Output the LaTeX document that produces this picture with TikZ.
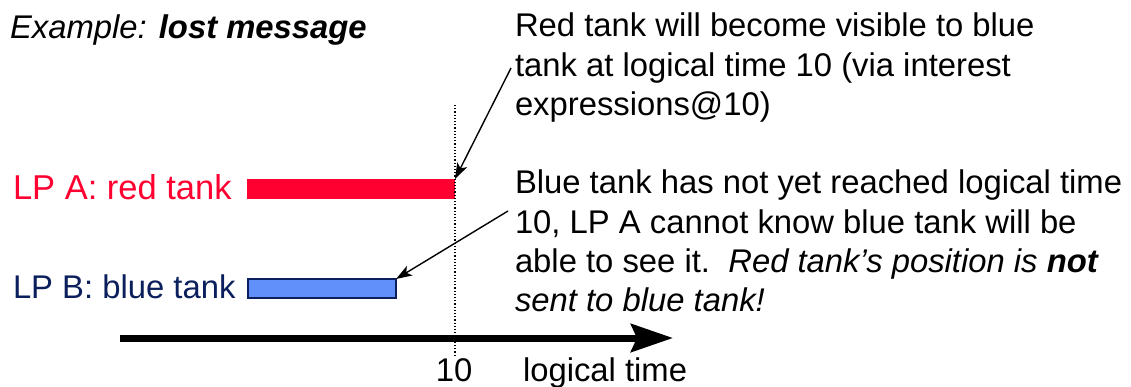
\documentclass[tikz,border=0pt]{standalone}
\usepackage{fontspec}
\setmainfont{Liberation Sans}
\usetikzlibrary{arrows.meta}
\definecolor{tankred}{HTML}{FF0030}
\definecolor{tanknavy}{HTML}{0B1F5C}
\definecolor{tankblue}{HTML}{6190FA}
\begin{document}
\begin{tikzpicture}[x=1pt,y=-1pt,
  txt/.style={inner sep=0pt,outer sep=0pt,font=\fontsize{32.8}{39.3}\selectfont},
  block/.style={txt,anchor=north west,align=left},
  bar/.style={rectangle,inner sep=0pt,outer sep=0pt,anchor=north west},
  callout/.style={line width=1.4pt,-{Stealth[length=16pt,width=11pt,inset=4pt]}},
  timeaxis/.style={line width=7pt,-{Stealth[length=42pt,width=28pt,inset=6pt]}}]
\useasboundingbox (0,0) rectangle (1131,386);

% title
\node[txt,anchor=base west] (title) at (10,38) {\itshape Example: \bfseries lost message};

% explanatory texts
\node[block] (note1) at (515,13) {Red tank will become visible to blue\\
tank at logical time 10 (via interest\\
expressions@10)};
\node[block] (note2) at (515,170) {Blue tank has not yet reached logical time\\
10, LP A cannot know blue tank will be\\
able to see it.\ \ \textit{Red tank's position is \textbf{not}}\\
\textit{sent to blue tank!}};

% logical processes
\node[txt,anchor=base west,text=tankred,font=\fontsize{34.5}{40}\selectfont] (lpa) at (13,199) {LP A: red tank};
\node[txt,anchor=base west,text=tanknavy] (lpb) at (13,298) {LP B: blue tank};
\node[bar,fill=tankred,minimum width=208pt,minimum height=20pt] (redbar) at (247,179) {};
\node[bar,fill=tankblue,draw=tanknavy,line width=1.3pt,minimum width=148pt,minimum height=19pt] (bluebar) at (248,279) {};

% logical time 10 marker
\coordinate (tentop) at (455,105);
\coordinate (tenbot) at (455,356);
\draw[line width=1.2pt,dotted] (tentop) -- (tenbot);

% time axis
\coordinate (axstart) at (120,338);
\coordinate (axend) at (673,338);
\draw[timeaxis] (axstart) -- (axend);
\node[txt,anchor=base] (ten) at (454,381) {10};
\node[txt,anchor=base west] (ltime) at (523,381) {logical time};

% callout arrows
\coordinate (c1) at (511,68);
\coordinate (c2) at (508,211);
\draw[callout] (c1) -- (redbar.north east);
\draw[callout] (c2) -- (bluebar.north east);
\end{tikzpicture}
\end{document}
